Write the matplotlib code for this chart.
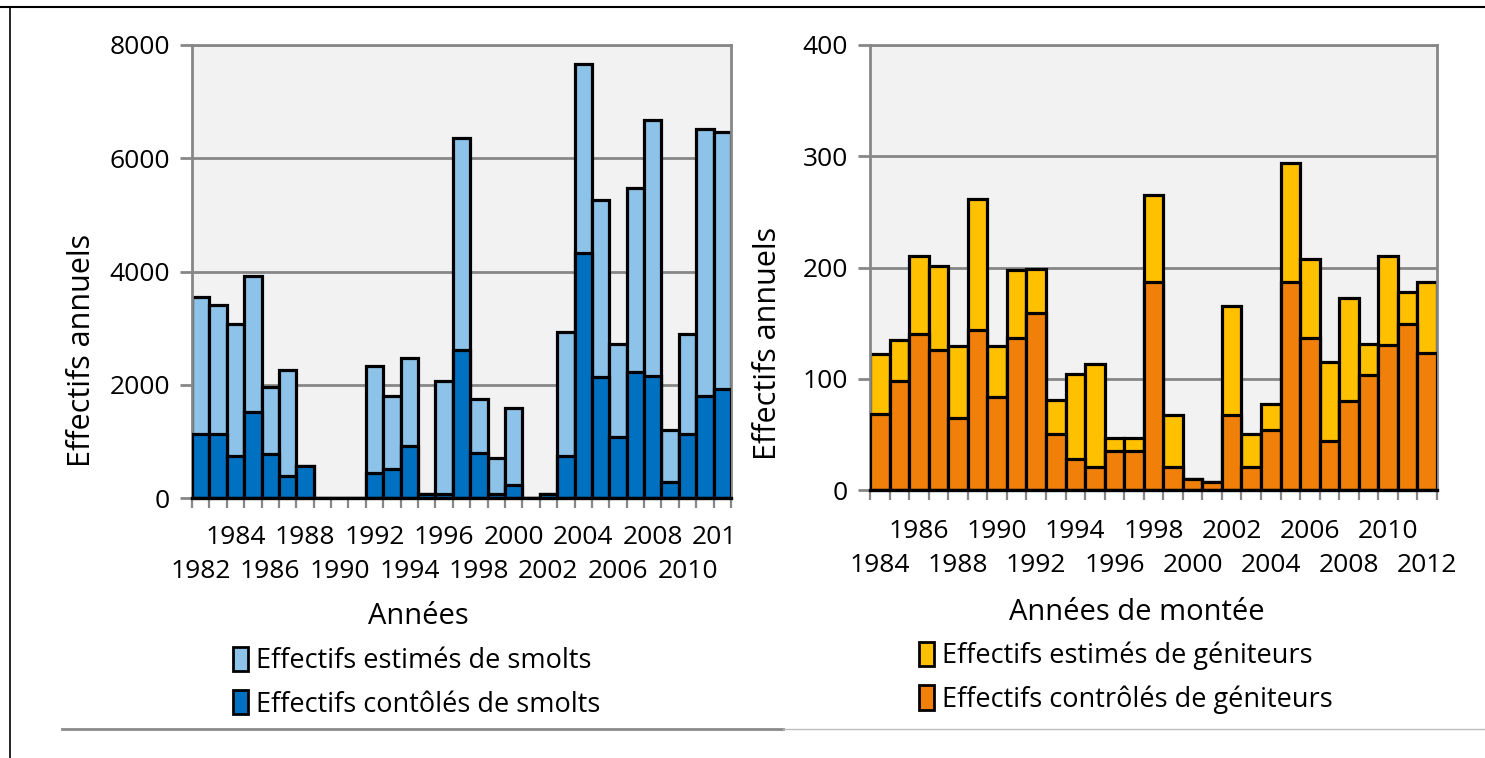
import numpy as np
import matplotlib.pyplot as plt
from matplotlib.lines import Line2D
from matplotlib.patches import Patch
from matplotlib.transforms import blended_transform_factory, Bbox, TransformedBbox

plt.rcParams['font.family'] = ['Open Sans', 'DejaVu Sans']

# --- data ---
years_smolts = list(range(1982, 2013))
smolts_estimes = [3550, 3410, 3070, 3920, 1965, 2265, 565, 0, 0, 0, 2335, 1800, 2470, 75,
                  2070, 6350, 1750, 705, 1590, 0, 75, 2940, 7660, 5270, 2720, 5470, 6670,
                  1200, 2890, 6520, 6460]
smolts_controles = [1130, 1130, 745, 1520, 775, 380, 565, 0, 0, 0, 440, 520, 925, 75,
                    75, 2620, 795, 75, 230, 0, 75, 740, 4325, 2130, 1075, 2220, 2150,
                    275, 1130, 1805, 1920]

years_geniteurs = list(range(1984, 2013))
geniteurs_estimes = [122, 135, 210, 201, 129, 262, 129, 198, 199, 81, 104, 113, 47, 47,
                     265, 67, 10, 7, 165, 50, 77, 294, 208, 115, 173, 131, 210, 178, 187]
geniteurs_controles = [68, 98, 140, 126, 65, 144, 84, 137, 159, 50, 28, 21, 35, 35,
                       187, 21, 10, 7, 67, 21, 54, 187, 137, 44, 80, 103, 130, 149, 123]

W, H = 1485, 758
fig = plt.figure(figsize=(W / 100, H / 100), dpi=100)
fig.patch.set_facecolor('white')

GRID = '#878787'
BG = '#F2F2F2'


def fx(px):
    return px / W


def fy(py):
    return 1 - py / H


def setup_axis(ax, n, ymax, ystep):
    ax.set_facecolor(BG)
    ax.set_xlim(-0.5, n - 0.5)
    ax.set_ylim(0, ymax)
    ax.set_yticks(np.arange(0, ymax + 1, ystep))
    ax.yaxis.grid(True, color=GRID, linewidth=2)
    ax.set_axisbelow(True)
    for s in ['left', 'top', 'right']:
        ax.spines[s].set_color(GRID)
        ax.spines[s].set_linewidth(2)
    ax.spines['bottom'].set_color('black')
    ax.spines['bottom'].set_linewidth(2.4)
    ax.spines['bottom'].set_zorder(5)
    ax.set_xticks(np.arange(-0.5, n, 1.0))
    ax.set_xticklabels([])
    ax.tick_params(axis='x', direction='out', length=7.5, width=1.6, color=GRID)
    ax.tick_params(axis='y', direction='out', length=9, width=2, color=GRID,
                   labelsize=19, pad=7)


def year_labels(ax, years, y1, y2, clip_px=None):
    trans = blended_transform_factory(ax.transData, fig.transFigure)
    for i, yr in enumerate(years):
        if i % 2:
            continue
        ypos = fy(y2) if (i // 2) % 2 == 0 else fy(y1)
        t = ax.text(i, ypos, str(yr), transform=trans, ha='center', va='center',
                    fontsize=19, clip_on=False)
        if clip_px is not None:
            t.set_clip_box(TransformedBbox(Bbox([[0, 0], [fx(clip_px), 1]]), fig.transFigure))
            t.set_clip_on(True)


# --- left chart: smolts ---
axL = fig.add_axes([fx(192), fy(498), fx(731 - 192), (498 - 45) / H])
setup_axis(axL, len(years_smolts), 8000, 2000)
x = np.arange(len(years_smolts))
axL.bar(x, smolts_estimes, width=1.0, color='#8DC3E8', edgecolor='black', linewidth=2.3, zorder=2)
axL.bar(x, smolts_controles, width=1.0, color='#0070C0', edgecolor='black', linewidth=2.3, zorder=3)
year_labels(axL, years_smolts, 538, 572, clip_px=737)

# --- right chart: geniteurs ---
axR = fig.add_axes([fx(870), fy(490), fx(1437 - 870), (490 - 45) / H])
setup_axis(axR, len(years_geniteurs), 400, 100)
x2 = np.arange(len(years_geniteurs))
axR.bar(x2, geniteurs_estimes, width=1.0, color='#FFC000', edgecolor='black', linewidth=2.3, zorder=2)
axR.bar(x2, geniteurs_controles, width=1.0, color='#F0800A', edgecolor='black', linewidth=2.3, zorder=3)
year_labels(axR, years_geniteurs, 531, 565)

# axis titles
fig.text(fx(82), fy(350), 'Effectifs annuels', rotation=90, ha='center', va='center', fontsize=22)
fig.text(fx(768), fy(343), 'Effectifs annuels', rotation=90, ha='center', va='center', fontsize=22)
fig.text(fx(418), fy(617), 'Années', ha='center', va='center', fontsize=21)
fig.text(fx(1137), fy(612), 'Années de montée', ha='center', va='center', fontsize=21)

# legends
hL = [Patch(facecolor='#8DC3E8', edgecolor='black', linewidth=2),
      Patch(facecolor='#0070C0', edgecolor='black', linewidth=2)]
fig.legend(hL, ['Effectifs estimés de smolts', 'Effectifs contôlés de smolts'],
           loc='upper left', bbox_to_anchor=(fx(222), fy(636)), frameon=False,
           fontsize=19.5, handlelength=0.55, handleheight=1.0, handletextpad=0.3,
           labelspacing=0.55, borderaxespad=0)
hR = [Patch(facecolor='#FFC000', edgecolor='black', linewidth=2),
      Patch(facecolor='#F0800A', edgecolor='black', linewidth=2)]
fig.legend(hR, ['Effectifs estimés de géniteurs', 'Effectifs contrôlés de géniteurs'],
           loc='upper left', bbox_to_anchor=(fx(908), fy(631)), frameon=False,
           fontsize=19.5, handlelength=0.55, handleheight=1.0, handletextpad=0.3,
           labelspacing=0.55, borderaxespad=0)

# frame lines
fig.add_artist(Line2D([fx(62), fx(783)], [fy(729), fy(729)], color='#8A8A8A', linewidth=2))
fig.add_artist(Line2D([fx(783), 1], [fy(729), fy(729)], color='#BDBDBD', linewidth=1))
fig.add_artist(Line2D([0, 1], [fy(7), fy(7)], color='black', linewidth=1.5))
fig.add_artist(Line2D([fx(10), fx(10)], [0, fy(7)], color='black', linewidth=1.2))

fig.savefig('out.png', dpi=100)
